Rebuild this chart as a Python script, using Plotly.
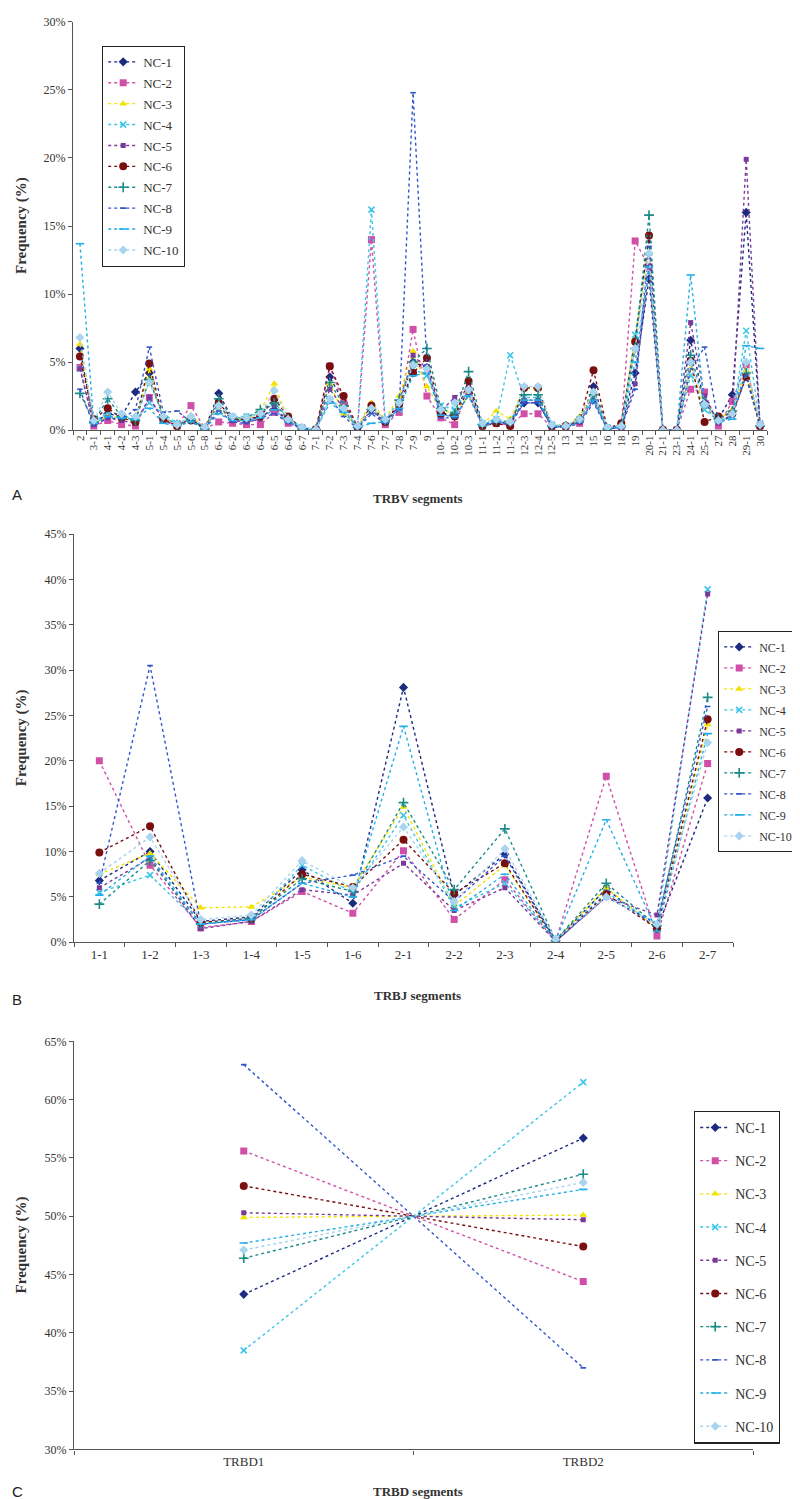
import plotly.graph_objects as go

W, H = 800, 1499

series_names = ["NC-1", "NC-2", "NC-3", "NC-4", "NC-5", "NC-6", "NC-7", "NC-8", "NC-9", "NC-10"]

# ---------------- Panel A : TRBV ----------------
trbv_segments = ["2", "3-1", "4-1", "4-2", "4-3", "5-1", "5-4", "5-5", "5-6", "5-8",
                 "6-1", "6-2", "6-3", "6-4", "6-5", "6-6", "6-7", "7-1", "7-2", "7-3",
                 "7-4", "7-6", "7-7", "7-8", "7-9", "9", "10-1", "10-2", "10-3", "11-1",
                 "11-2", "11-3", "12-3", "12-4", "12-5", "13", "14", "15", "16", "18",
                 "19", "20-1", "21-1", "23-1", "24-1", "25-1", "27", "28", "29-1", "30"]

trbv_nc1 = [6.0, 0.5, 1.2, 1.0, 2.8, 4.2, 0.9, 0.4, 0.8, 0.1, 2.7, 0.8, 0.7, 1.0, 1.5, 0.7, 0.1, 0.05, 3.9, 2.0,
            0.2, 1.5, 0.6, 2.0, 5.0, 4.6, 1.3, 1.0, 3.0, 0.4, 0.6, 0.6, 2.0, 2.0, 0.3, 0.3, 0.6, 3.2, 0.1, 0.2,
            4.2, 11.1, 0, 0, 6.6, 2.0, 0.8, 2.6, 16.0, 0.3]
trbv_nc2 = [4.6, 0.3, 0.7, 0.4, 0.3, 2.4, 0.8, 0.3, 1.8, 0.1, 0.6, 0.5, 0.4, 0.4, 1.3, 0.5, 0.1, 0.05, 4.7, 2.0,
            0.2, 14.0, 0.4, 1.3, 7.4, 2.5, 0.9, 0.4, 2.9, 0.3, 0.5, 0.4, 1.2, 1.2, 0.2, 0.2, 0.5, 2.4, 0.1, 0.2,
            13.9, 12.0, 0, 0, 3.0, 2.8, 0.3, 2.1, 4.8, 0.3]
trbv_nc3 = [6.3, 0.5, 1.0, 0.9, 0.6, 4.5, 0.9, 0.3, 1.1, 0.1, 1.5, 0.8, 0.8, 1.4, 3.4, 0.8, 0.2, 0.05, 3.4, 1.2,
            0.3, 2.0, 0.8, 2.5, 5.8, 3.2, 1.5, 1.2, 2.6, 0.4, 1.4, 0.8, 3.1, 3.0, 0.4, 0.3, 1.0, 2.8, 0.2, 0.3,
            6.8, 13.0, 0, 0, 4.5, 1.8, 0.8, 1.5, 4.4, 0.4]
trbv_nc4 = [4.5, 0.6, 1.3, 1.1, 0.8, 2.0, 1.2, 0.5, 0.9, 0.2, 1.5, 1.0, 1.0, 1.2, 2.0, 0.9, 0.2, 0.05, 2.2, 1.5,
            0.2, 16.2, 0.8, 1.5, 4.5, 4.0, 1.8, 1.5, 3.0, 0.5, 0.8, 5.5, 2.4, 2.4, 0.4, 0.3, 0.8, 2.5, 0.2, 0.3,
            7.0, 14.0, 0, 0, 4.0, 1.5, 0.7, 1.0, 7.3, 0.5]
trbv_nc5 = [4.5, 0.4, 0.9, 0.7, 0.5, 2.4, 0.7, 0.3, 0.9, 0.1, 1.8, 0.7, 0.6, 0.8, 1.8, 0.6, 0.1, 0.05, 3.0, 1.6,
            0.2, 1.5, 0.5, 1.8, 5.5, 4.5, 1.4, 2.4, 3.2, 0.3, 0.6, 0.5, 2.2, 2.2, 0.3, 0.2, 0.6, 2.2, 0.1, 0.2,
            3.4, 12.0, 0, 0, 7.9, 2.5, 0.5, 1.2, 19.9, 0.3]
trbv_nc6 = [5.4, 0.8, 1.6, 0.9, 0.6, 4.9, 0.8, 0.3, 0.7, 0.1, 2.0, 0.8, 0.8, 1.0, 2.3, 1.0, 0.1, 0.05, 4.7, 2.5,
            0.2, 1.8, 0.6, 1.9, 4.2, 5.3, 1.2, 1.0, 3.6, 0.3, 0.5, 0.3, 3.1, 3.1, 0.3, 0.3, 0.7, 4.4, 0.1, 0.5,
            6.5, 14.3, 0, 0, 5.1, 0.6, 1.0, 1.2, 3.9, 0.3]
trbv_nc7 = [2.7, 0.6, 2.3, 1.0, 0.7, 3.7, 1.0, 0.4, 0.8, 0.1, 2.3, 0.9, 0.9, 1.5, 2.0, 0.8, 0.1, 0.05, 3.5, 1.8,
            0.2, 1.5, 0.7, 2.2, 5.0, 6.0, 1.6, 1.2, 4.3, 0.4, 0.7, 0.6, 2.6, 2.6, 0.3, 0.3, 0.8, 2.6, 0.1, 0.3,
            6.0, 15.8, 0, 0, 5.5, 2.0, 0.8, 1.4, 4.2, 0.3]
trbv_nc8 = [3.0, 0.3, 0.9, 0.8, 1.5, 6.1, 1.3, 1.4, 0.6, 0.1, 1.4, 0.6, 0.5, 0.9, 1.2, 0.6, 0.1, 0.05, 2.4, 1.0,
            0.1, 1.2, 0.5, 1.5, 24.8, 4.8, 0.9, 0.9, 2.6, 0.4, 0.6, 0.4, 2.0, 2.0, 0.2, 0.2, 0.5, 2.0, 0.1, 0.2,
            3.0, 13.5, 0, 0, 4.5, 6.1, 0.6, 1.0, 4.0, 0.3]
trbv_nc9 = [13.7, 0.5, 1.0, 0.9, 0.8, 1.6, 0.5, 0.3, 0.6, 0.1, 1.2, 0.7, 0.7, 0.9, 1.5, 0.6, 0.1, 0.05, 2.0, 1.3,
            0.2, 0.5, 0.6, 1.6, 4.0, 4.2, 1.1, 1.0, 2.5, 0.3, 0.6, 0.5, 2.2, 2.2, 0.3, 0.2, 0.6, 2.2, 0.1, 0.2,
            5.0, 12.0, 0, 0, 11.4, 1.8, 0.6, 0.8, 6.2, 6.0]
trbv_nc10 = [6.8, 0.7, 2.8, 1.2, 1.0, 3.5, 1.0, 0.4, 1.0, 0.2, 1.8, 1.0, 0.9, 1.2, 2.9, 0.8, 0.2, 0.05, 2.3, 1.6,
             0.3, 1.6, 0.8, 2.0, 4.8, 4.5, 1.5, 2.0, 3.0, 0.5, 0.8, 0.6, 3.2, 3.2, 0.4, 0.3, 0.8, 2.8, 0.2, 0.3,
             6.0, 13.0, 0, 0, 5.0, 1.9, 0.7, 1.2, 5.0, 0.4]

# ---------------- Panel B : TRBJ ----------------
trbj_segments = ["1-1", "1-2", "1-3", "1-4", "1-5", "1-6", "2-1", "2-2", "2-3", "2-4", "2-5", "2-6", "2-7"]
trbj_nc1 = [6.8, 10.0, 2.3, 2.8, 8.0, 4.3, 28.1, 5.2, 9.7, 0.2, 5.9, 1.5, 15.9]
trbj_nc2 = [20.0, 8.5, 1.6, 2.3, 5.6, 3.2, 10.1, 2.5, 6.9, 0.1, 18.3, 0.7, 19.7]
trbj_nc3 = [7.5, 9.8, 3.8, 3.9, 7.2, 6.0, 14.9, 4.0, 8.5, 0.2, 6.0, 1.5, 24.0]
trbj_nc4 = [5.5, 7.4, 2.0, 2.5, 8.5, 5.5, 14.0, 3.8, 6.5, 0.2, 5.5, 2.0, 38.9]
trbj_nc5 = [6.0, 9.3, 1.5, 2.3, 5.8, 5.2, 8.7, 3.5, 6.0, 0.1, 5.0, 3.0, 38.4]
trbj_nc6 = [9.9, 12.8, 2.2, 2.6, 7.5, 6.1, 11.3, 5.4, 8.7, 0.1, 5.3, 1.5, 24.6]
trbj_nc7 = [4.2, 9.0, 2.0, 2.7, 7.0, 5.6, 15.4, 5.8, 12.5, 0.2, 6.5, 1.8, 27.0]
trbj_nc8 = [6.5, 30.5, 2.0, 2.5, 6.5, 7.4, 9.5, 4.5, 9.5, 0.1, 5.0, 2.0, 26.0]
trbj_nc9 = [5.2, 9.5, 2.0, 2.5, 6.5, 5.0, 23.8, 3.5, 7.5, 0.2, 13.5, 1.2, 23.0]
trbj_nc10 = [7.6, 11.6, 2.5, 3.0, 9.0, 6.0, 12.7, 4.5, 10.3, 0.3, 5.0, 2.0, 22.0]

# ---------------- Panel C : TRBD ----------------
trbd_segments = ["TRBD1", "TRBD2"]
trbd_nc1 = [43.3, 56.7]
trbd_nc2 = [55.6, 44.4]
trbd_nc3 = [49.9, 50.1]
trbd_nc4 = [38.5, 61.5]
trbd_nc5 = [50.3, 49.7]
trbd_nc6 = [52.6, 47.4]
trbd_nc7 = [46.4, 53.6]
trbd_nc8 = [63.0, 37.0]
trbd_nc9 = [47.7, 52.3]
trbd_nc10 = [47.1, 52.9]

trbv_data = [trbv_nc1, trbv_nc2, trbv_nc3, trbv_nc4, trbv_nc5, trbv_nc6, trbv_nc7, trbv_nc8, trbv_nc9, trbv_nc10]
trbj_data = [trbj_nc1, trbj_nc2, trbj_nc3, trbj_nc4, trbj_nc5, trbj_nc6, trbj_nc7, trbj_nc8, trbj_nc9, trbj_nc10]
trbd_data = [trbd_nc1, trbd_nc2, trbd_nc3, trbd_nc4, trbd_nc5, trbd_nc6, trbd_nc7, trbd_nc8, trbd_nc9, trbd_nc10]

colors = ["#1C2A80", "#D050A8", "#F2E200", "#3EC6E8", "#7A3A9A",
          "#7A0F10", "#1A8C88", "#3355CC", "#22AEE8", "#A8D4F0"]
symbols = ["diamond", "square", "triangle-up", "x-thin-open", "square",
           "circle", "cross-thin-open", "line-ew-open", "line-ew-open", "diamond"]
sizes = [7, 7, 7, 6, 5, 8, 7, 4, 6, 7]
thin = {"x-thin-open", "cross-thin-open", "line-ew-open"}

SERIF = "Liberation Serif"


def py(px):
    return 1 - px / H


def px_x(px):
    return px / W


fig = go.Figure()

panels = [
    (trbv_segments, trbv_data, "x", "y", "legend", "A"),
    (trbj_segments, trbj_data, "x2", "y2", "legend2", "B"),
    (trbd_segments, trbd_data, "x3", "y3", "legend3", "C"),
]

for cats, data, xa, ya, lg, tag in panels:
    for i, name in enumerate(series_names):
        c = colors[i]
        sym = symbols[i]
        fig.add_trace(go.Scatter(
            x=cats, y=data[i], name=name, mode="lines+markers",
            xaxis=xa, yaxis=ya, legend=lg, legendgroup=tag + name,
            line=dict(color=c, width=1.4, dash="dot"),
            marker=dict(symbol=sym, size=sizes[i], color=c,
                        line=dict(color=c, width=1.6 if sym in thin else 0)),
        ))

axis_common = dict(showline=True, linecolor="#555555", linewidth=1.2, ticks="outside",
                   tickcolor="#555555", ticklen=4, showgrid=False, zeroline=False,
                   tickfont=dict(family=SERIF, size=12, color="#333333"))

xcat = dict(axis_common, type="category", tickson="boundaries")

legend_common = dict(xanchor="left", yanchor="top", bordercolor="#222222", borderwidth=1.2,
                     bgcolor="white", itemwidth=30)

fig.update_layout(
    width=W, height=H, margin=dict(l=0, r=0, t=0, b=0),
    plot_bgcolor="white", paper_bgcolor="white",
    showlegend=True,
    xaxis=dict(xcat, domain=[px_x(65), px_x(759)], anchor="y", range=[-0.5, 49.5],
               tickangle=-90, tickmode="array", tickvals=trbv_segments, ticktext=trbv_segments,
               tickfont=dict(family=SERIF, size=11, color="#333333")),
    yaxis=dict(axis_common, domain=[py(419), py(7)], anchor="x", range=[0, 30], dtick=5,
               ticksuffix="%"),
    xaxis2=dict(xcat, domain=[px_x(66), px_x(725)], anchor="y2", range=[-0.5, 12.5],
                tickfont=dict(family=SERIF, size=13, color="#333333")),
    yaxis2=dict(axis_common, domain=[py(936), py(524)], anchor="x2", range=[0, 45], dtick=5,
                ticksuffix="%"),
    xaxis3=dict(xcat, domain=[px_x(66), px_x(745)], anchor="y3", range=[-0.5, 1.5],
                tickfont=dict(family=SERIF, size=13, color="#333333")),
    yaxis3=dict(axis_common, domain=[py(1448), py(1036)], anchor="x3", range=[30, 65], dtick=5,
                ticksuffix="%"),
    legend=dict(legend_common, x=px_x(94), y=py(31),
                font=dict(family=SERIF, size=13, color="#333333"), tracegroupgap=1),
    legend2=dict(legend_common, x=px_x(710), y=py(622),
                 font=dict(family=SERIF, size=12, color="#333333"), tracegroupgap=2),
    legend3=dict(legend_common, x=px_x(686), y=py(1106),
                 font=dict(family=SERIF, size=14, color="#333333"), tracegroupgap=12),
)

annotations = []
for (ytitle_px, xtitle, xtitle_px, letter_px, letter) in [
    ((7 + 419) / 2, "TRBV segments", 488, 484, "A"),
    ((524 + 936) / 2, "TRBJ segments", 990, 994, "B"),
    ((1036 + 1448) / 2, "TRBD segments", 1490, 1490, "C"),
]:
    annotations.append(dict(text="<b>Frequency (%)</b>", x=px_x(13), y=py(ytitle_px),
                            xref="paper", yref="paper", showarrow=False, textangle=-90,
                            xanchor="center", yanchor="middle",
                            font=dict(family=SERIF, size=15, color="#333333")))
    annotations.append(dict(text="<b>" + xtitle + "</b>", x=px_x(410), y=py(xtitle_px),
                            xref="paper", yref="paper", showarrow=False,
                            xanchor="center", yanchor="middle",
                            font=dict(family=SERIF, size=13, color="#333333")))
    annotations.append(dict(text=letter, x=px_x(2), y=py(letter_px), xanchor="left",
                            yanchor="middle", xref="paper", yref="paper", showarrow=False,
                            font=dict(family="Liberation Sans", size=15, color="#222222")))

fig.update_layout(annotations=annotations)

fig.write_html("out.html")
